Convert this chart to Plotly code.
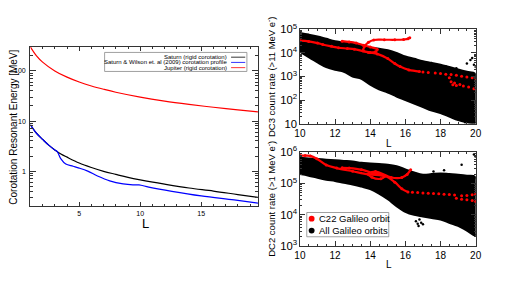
import math
import plotly.graph_objects as go

# ---------------- Left panel: corotation resonant energy ----------------
L_sat = [1, 1.5, 2, 2.5, 3, 3.5, 4, 5, 6, 7, 8, 9, 10, 12, 14, 16, 18, 20]
E_sat_rigid = [8.4, 5.7, 4.3, 3.3, 2.65, 2.2, 1.9, 1.45, 1.18, 0.99, 0.86, 0.75, 0.67,
               0.55, 0.46, 0.40, 0.34, 0.29]

L_wilson = [1, 1.5, 2, 2.5, 3, 3.2, 3.5, 3.9, 4.5, 5, 5.7, 6.5, 7.5, 8.6, 9.4, 9.9,
            10.7, 12.6, 15, 17.7, 20]
E_wilson = [8.4, 5.7, 4.3, 3.3, 2.65, 2.45, 1.75, 1.38, 1.25, 1.15, 1.0, 0.80, 0.64,
            0.555, 0.53, 0.53, 0.48, 0.395, 0.32, 0.266, 0.225]

L_jup = [1, 1.5, 2, 3, 4, 5, 6, 7, 8, 10, 12, 14, 16, 18, 20]
E_jup = [300, 200, 150, 100, 75, 60, 50, 43, 37.5, 30, 25, 21.5, 18.8, 16.7, 15]

left_ytick_vals = [1, 10, 100]
left_ytick_text = ["1", "10", "100"]
left_xtick_vals = [5, 10, 15, 20]

left_legend = ["Saturn (rigid corotation)",
               "Saturn & Wilson et. al (2009) corotation profile",
               "Jupiter (rigid corotation)"]
left_colors = ["#000000", "#0000ff", "#ff0000"]

# ---------------- Right panels: Galileo count rates ----------------
cloud_L = [10, 10.5, 11, 11.5, 12, 12.5, 13, 13.5, 14, 14.5, 15, 15.5, 16, 16.5,
           17, 17.5, 18, 18.5, 19, 19.5, 20]
dc3_upper_log = [4.85, 4.78, 4.70, 4.60, 4.50, 4.45, 4.38, 4.30, 4.22, 4.18, 4.12,
                 4.00, 3.85, 3.75, 3.65, 3.58, 3.50, 3.40, 3.30, 3.20, 3.10]
dc3_lower_log = [4.05, 3.82, 3.60, 3.40, 3.28, 3.20, 3.00, 2.90, 2.65, 2.45, 2.32,
                 2.15, 2.00, 1.85, 1.70, 1.55, 1.45, 1.30, 1.15, 1.05, 1.00]
dc2_upper_log = [5.82, 5.80, 5.78, 5.76, 5.74, 5.72, 5.70, 5.66, 5.64, 5.62, 5.60,
                 5.55, 5.45, 5.35, 5.28, 5.30, 5.32, 5.30, 5.28, 5.25, 5.20]
dc2_lower_log = [5.30, 5.25, 5.18, 5.12, 5.08, 5.02, 4.97, 4.90, 4.82, 4.68, 4.50,
                 4.28, 4.10, 4.00, 3.95, 3.90, 3.85, 3.75, 3.65, 3.50, 3.35]

dc3_out_L = [19.5, 19.7, 19.8, 19.9, 20.0, 16.8, 18.9, 19.4, 18.3]
dc3_out_log = [3.55, 3.70, 3.78, 3.50, 3.40, 3.52, 3.35, 1.05, 3.42]
dc2_out_L = [16.6, 16.7, 16.8, 16.9, 17.0, 16.75, 19.2, 19.9, 20.0, 18.2, 17.6]
dc2_out_log = [3.80, 3.72, 3.85, 3.75, 3.70, 3.65, 5.60, 5.92, 5.85, 5.42, 5.38]

# C22 orbit, DC3
c22_dc3_main_L = [10.0, 10.5, 11.0, 11.3, 11.8, 12.2, 12.7, 13.1, 13.6, 14.0, 14.4,
                  15.0, 15.4, 15.7, 16.2, 16.8]
c22_dc3_main_log = [4.52, 4.49, 4.42, 4.36, 4.28, 4.22, 4.19, 4.16, 4.08, 4.02, 3.96,
                    3.76, 3.55, 3.42, 3.28, 3.21]
c22_dc3_branch_L = [12.4, 12.8, 13.2, 13.6, 14.0, 14.4, 14.3, 13.9, 13.6, 13.7, 13.9,
                    14.2, 14.8, 15.4, 15.9, 16.15, 16.25]
c22_dc3_branch_log = [4.50, 4.47, 4.42, 4.33, 4.25, 4.15, 4.05, 4.02, 4.10, 4.30, 4.45,
                      4.55, 4.56, 4.56, 4.57, 4.60, 4.65]
c22_dc3_sparse_L = [17.0, 17.3, 17.7, 18.0, 18.3, 18.6, 18.9, 19.2, 19.5, 19.8, 20.0,
                    18.5, 18.6, 18.7, 18.9, 19.1, 18.8, 19.3, 19.6, 19.9]
c22_dc3_sparse_log = [3.19, 3.17, 3.15, 3.13, 3.10, 3.08, 3.05, 3.01, 2.98, 2.95, 2.93,
                      2.95, 2.78, 2.65, 2.62, 2.66, 2.72, 2.60, 2.55, 2.48]

# C22 orbit, DC2
c22_dc2_main_L = [10.0, 10.3, 10.6, 10.96, 11.5, 12.1, 13.0, 13.9, 14.85, 15.4, 15.8,
                  16.15]
c22_dc2_main_log = [5.89, 5.89, 5.88, 5.79, 5.59, 5.49, 5.39, 5.29, 5.24, 5.04, 4.83,
                    4.73]
c22_dc2_branch_L = [12.4, 12.8, 13.5, 14.1, 14.4, 14.8, 14.6, 14.1, 13.9, 14.3, 15.2,
                    15.8, 16.1, 16.3]
c22_dc2_branch_log = [5.50, 5.49, 5.44, 5.34, 5.30, 5.22, 5.15, 5.20, 5.30, 5.38,
                      5.19, 5.19, 5.29, 5.44]
c22_dc2_sparse_L = [16.4, 16.7, 17.0, 17.3, 17.6, 17.9, 18.2, 18.5, 18.8, 19.2, 19.5,
                    19.8, 20.0, 18.9, 19.2, 19.5, 19.8, 20.0]
c22_dc2_sparse_log = [4.72, 4.71, 4.70, 4.69, 4.68, 4.67, 4.66, 4.65, 4.63, 4.61, 4.62,
                      4.64, 4.66, 4.53, 4.50, 4.48, 4.46, 4.43]

right_legend = ["C22 Galileo orbit", "All Galileo orbits"]
right_legend_colors = ["#ff0000", "#000000"]

W, H = 510, 287
FONT = "Liberation Sans, Arial, sans-serif"


def px_x(p):
    return p / W


def px_y(p):
    return 1 - p / H


fig = go.Figure()

# Left panel traces
for Ls, Es, c in [(L_sat, E_sat_rigid, left_colors[0]),
                  (L_wilson, E_wilson, left_colors[1]),
                  (L_jup, E_jup, left_colors[2])]:
    fig.add_trace(go.Scatter(x=Ls, y=Es, mode="lines", line=dict(color=c, width=1.2, shape="spline"),
                             xaxis="x", yaxis="y", showlegend=False, hoverinfo="skip"))


def cloud(upper, lower, xa, ya):
    xs = cloud_L + cloud_L[::-1]
    ys = [10 ** v for v in upper] + [10 ** v for v in lower[::-1]]
    return go.Scatter(x=xs, y=ys, mode="lines", fill="toself",
                      line=dict(color="black", width=2, shape="spline"),
                      fillcolor="black", xaxis=xa, yaxis=ya, showlegend=False, hoverinfo="skip")


fig.add_trace(cloud(dc3_upper_log, dc3_lower_log, "x2", "y2"))
fig.add_trace(cloud(dc2_upper_log, dc2_lower_log, "x3", "y3"))

fig.add_trace(go.Scatter(x=dc3_out_L, y=[10 ** v for v in dc3_out_log], mode="markers",
                         marker=dict(color="black", size=2.5), xaxis="x2", yaxis="y2",
                         showlegend=False, hoverinfo="skip"))
fig.add_trace(go.Scatter(x=dc2_out_L, y=[10 ** v for v in dc2_out_log], mode="markers",
                         marker=dict(color="black", size=2.5), xaxis="x3", yaxis="y3",
                         showlegend=False, hoverinfo="skip"))

RED = "#ff0000"
for Ls, Vs, xa, ya in [(c22_dc3_main_L, c22_dc3_main_log, "x2", "y2"),
                       (c22_dc3_branch_L, c22_dc3_branch_log, "x2", "y2"),
                       (c22_dc2_main_L, c22_dc2_main_log, "x3", "y3"),
                       (c22_dc2_branch_L, c22_dc2_branch_log, "x3", "y3")]:
    fig.add_trace(go.Scatter(x=Ls, y=[10 ** v for v in Vs], mode="lines+markers",
                             line=dict(color=RED, width=2.2, shape="spline"),
                             marker=dict(color=RED, size=3),
                             xaxis=xa, yaxis=ya, showlegend=False, hoverinfo="skip"))

fig.add_trace(go.Scatter(x=c22_dc3_sparse_L, y=[10 ** v for v in c22_dc3_sparse_log], mode="markers",
                         marker=dict(color=RED, size=3), xaxis="x2", yaxis="y2",
                         showlegend=False, hoverinfo="skip"))
fig.add_trace(go.Scatter(x=c22_dc2_sparse_L, y=[10 ** v for v in c22_dc2_sparse_log], mode="markers",
                         marker=dict(color=RED, size=3), xaxis="x3", yaxis="y3",
                         showlegend=False, hoverinfo="skip"))

axis_common = dict(showline=True, mirror="allticks", linecolor="#333", linewidth=1,
                   ticks="inside", tickcolor="#333", showgrid=False, zeroline=False)

layout = dict(
    width=W, height=H, autosize=False,
    margin=dict(l=0, r=0, t=0, b=0),
    paper_bgcolor="white", plot_bgcolor="white",
    font=dict(family=FONT, color="black"),
    showlegend=False,
    hovermode=False,
    xaxis=dict(domain=[px_x(25), px_x(258)], range=[1, 19.65], tickvals=left_xtick_vals,
               ticklen=4, tickfont=dict(size=7),
               minor=dict(ticks="inside", dtick=1, ticklen=2, tickcolor="#333"),
               anchor="y", **axis_common),
    yaxis=dict(domain=[px_y(208.3), px_y(41)], type="log", range=[-0.699, 2.477],
               tickmode="array", tickvals=left_ytick_vals, showticklabels=False,
               ticklen=6,
               minor=dict(ticks="inside", dtick="D1", ticklen=3, tickcolor="#333"),
               anchor="x", **axis_common),
    xaxis2=dict(domain=[px_x(301), px_x(481)], range=[10, 20], dtick=2, ticklen=5,
                tickfont=dict(size=10),
                minor=dict(ticks="inside", dtick=0.5, ticklen=2, tickcolor="#333"),
                anchor="y2", **axis_common),
    yaxis2=dict(domain=[px_y(121.5), px_y(22.5)], type="log", range=[1, 5], dtick=1,
                exponentformat="power", ticklen=5, tickfont=dict(size=9),
                minor=dict(ticks="inside", dtick="D1", ticklen=2, tickcolor="#333"),
                anchor="x2", **axis_common),
    xaxis3=dict(domain=[px_x(301), px_x(481)], range=[10, 20], dtick=2, ticklen=5,
                tickfont=dict(size=10),
                minor=dict(ticks="inside", dtick=0.5, ticklen=2, tickcolor="#333"),
                anchor="y3", **axis_common),
    yaxis3=dict(domain=[px_y(250.5), px_y(151.5)], type="log", range=[3, 6], dtick=1,
                exponentformat="power", ticklen=5, tickfont=dict(size=9),
                minor=dict(ticks="inside", dtick="D1", ticklen=2, tickcolor="#333"),
                anchor="x3", **axis_common),
)
fig.update_layout(**layout)

annotations = [
    dict(text="Corotation Resonant Energy [MeV]", x=px_x(8), y=px_y(125), xref="paper", yref="paper",
         xanchor="center", yanchor="middle",
         showarrow=False, textangle=-90, font=dict(size=10)),
    dict(text="L", x=px_x(143), y=px_y(227), xref="paper", yref="paper", showarrow=False,
         xanchor="center", yanchor="middle", font=dict(size=13)),
    dict(text="DC3 count rate (>11 MeV e<sup>-</sup>)", x=px_x(272), y=px_y(72), xref="paper",
         yref="paper", showarrow=False, textangle=-90, xanchor="center", yanchor="middle",
         font=dict(size=9.5)),
    dict(text="L", x=px_x(392), y=px_y(142), xref="paper", yref="paper", showarrow=False,
         xanchor="center", yanchor="middle", font=dict(size=10)),
    dict(text="DC2 count rate (>1 MeV e<sup>-</sup>)", x=px_x(272), y=px_y(201), xref="paper",
         yref="paper", showarrow=False, textangle=-90, xanchor="center", yanchor="middle",
         font=dict(size=9.5)),
    dict(text="L", x=px_x(392), y=px_y(270), xref="paper", yref="paper", showarrow=False,
         xanchor="center", yanchor="middle", font=dict(size=10)),
]
# Left y tick labels (drawn as text at the tick values)
for v, t in zip(left_ytick_vals, left_ytick_text):
    annotations.append(dict(text=t, xref="x domain", yref="y", x=-0.01, y=math.log10(v),
                            xanchor="right", yanchor="middle", showarrow=False,
                            font=dict(size=7)))

shapes = [dict(type="rect", xref="paper", yref="paper", x0=px_x(101), x1=px_x(246.7),
               y0=px_y(66.7), y1=px_y(46.7), line=dict(color="#888", width=0.8),
               fillcolor="white", layer="above")]
for i, (txt, col) in enumerate(zip(left_legend, left_colors)):
    yy = 51.7 + i * 5.5
    annotations.append(dict(text=txt, x=px_x(228.5), y=px_y(yy), xref="paper", yref="paper",
                            xanchor="right", yanchor="middle", showarrow=False,
                            font=dict(size=6)))
    shapes.append(dict(type="line", xref="paper", yref="paper", x0=px_x(230.5), x1=px_x(245),
                       y0=px_y(yy), y1=px_y(yy), line=dict(color=col, width=0.8), layer="above"))

# Right-panel legend box
shapes.append(dict(type="rect", xref="paper", yref="paper", x0=px_x(308), x1=px_x(392),
                   y0=px_y(240.5), y1=px_y(215), line=dict(color="#888", width=0.8),
                   fillcolor="white", layer="above"))
for i, (txt, col) in enumerate(zip(right_legend, right_legend_colors)):
    yy = 221.5 + i * 12.5
    shapes.append(dict(type="circle", xref="paper", yref="paper", x0=px_x(310), x1=px_x(316),
                       y0=px_y(yy + 3), y1=px_y(yy - 3), line=dict(color=col, width=0),
                       fillcolor=col, layer="above"))
    annotations.append(dict(text=txt, x=px_x(319), y=px_y(yy), xref="paper", yref="paper",
                            xanchor="left", yanchor="middle", showarrow=False,
                            font=dict(size=9.5)))

fig.update_layout(annotations=annotations, shapes=shapes)
fig.write_html("out.html", config={"displayModeBar": False},
               post_script="document.body.style.margin='0';")
